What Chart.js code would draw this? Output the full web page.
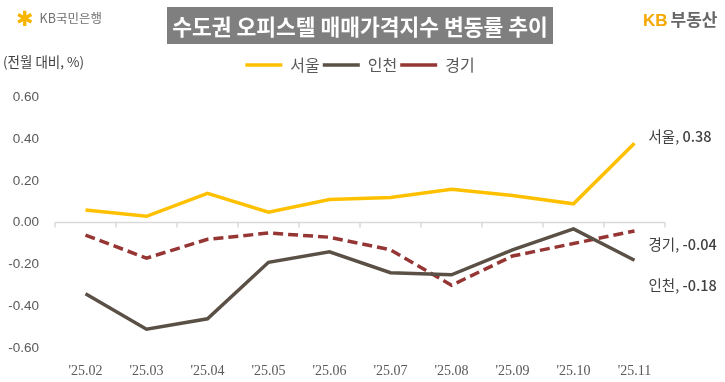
<!DOCTYPE html>
<html><head><meta charset="utf-8">
<script src="https://cdn.jsdelivr.net/npm/chart.js@4.4.1/dist/chart.umd.min.js"></script>
<style>
html,body{margin:0;padding:0;background:#fff;}
#wrap{position:relative;width:725px;height:382px;overflow:hidden;font-family:"Noto Sans CJK KR","Noto Sans",sans-serif;}
#c{position:absolute;left:0;top:0;}
.title{position:absolute;left:167px;top:7px;width:386px;height:37px;background:#7f7f7f;color:#fff;font-weight:bold;font-size:21.5px;line-height:37px;text-align:center;white-space:nowrap;}
.unit{position:absolute;left:3px;top:51px;font-size:13.5px;color:#404040;line-height:20px;white-space:nowrap;}
.kbbank{position:absolute;left:16px;top:8px;font-size:12.5px;color:#6f6f6f;line-height:20px;white-space:nowrap;}
.kbbank .star{color:#f7b500;font-family:"DejaVu Sans";font-size:21px;font-weight:bold;margin-right:6px;vertical-align:-3px;}
.kbland{position:absolute;left:643px;top:8px;font-size:17px;font-weight:bold;color:#666;line-height:22px;white-space:nowrap;}
.kbland .kb{color:#f5a800;font-family:"Liberation Sans";margin-right:3px;}
</style></head>
<body>
<div id="wrap">
<canvas id="c" width="725" height="382"></canvas>
<div class="kbbank"><span class="star">✱</span>KB국민은행</div>
<div class="title">수도권 오피스텔 매매가격지수 변동률 추이</div>
<div class="kbland"><span class="kb">KB</span>부동산</div>
<div class="unit">(전월 대비, %)</div>
</div>
<script>
const categories = ["'25.02","'25.03","'25.04","'25.05","'25.06","'25.07","'25.08","'25.09","'25.10","'25.11"];
const seriesNames = ["서울","인천","경기"];
const seoul    = [0.06, 0.03, 0.14, 0.05, 0.11, 0.12, 0.16, 0.13, 0.09, 0.38];
const incheon  = [-0.34,-0.51,-0.46,-0.19,-0.14,-0.24,-0.25,-0.13,-0.03,-0.18];
const gyeonggi = [-0.06,-0.17,-0.08,-0.05,-0.07,-0.13,-0.30,-0.16,-0.10,-0.04];
const yMin = -0.6, yMax = 0.6, yStep = 0.2;

const zeroAxis = {
  id:'zeroAxis',
  beforeDatasetsDraw(chart){
    const {ctx, scales:{x,y}} = chart;
    const y0 = y.getPixelForValue(0);
    const n = categories.length;
    ctx.save();
    ctx.strokeStyle = '#d9d9d9'; ctx.lineWidth = 1.5;
    ctx.beginPath();
    ctx.moveTo(x.left, y0); ctx.lineTo(x.right, y0);
    for (let i = 0; i <= n; i++) {
      const px = x.left + (x.right - x.left) * i / n;
      ctx.moveTo(px, y0); ctx.lineTo(px, y0 + 5);
    }
    ctx.stroke();
    ctx.restore();
  }
};

const endLabels = {
  id:'endLabels',
  afterDatasetsDraw(chart, args, opts){
    const {ctx} = chart;
    chart.data.datasets.forEach((ds, i) => {
      const meta = chart.getDatasetMeta(i);
      const last = meta.data[meta.data.length - 1];
      const v = ds.data[ds.data.length - 1];
      const x = last.x + opts.dx;
      const y = last.y + opts.dy[i];
      ctx.save();
      ctx.textBaseline = 'middle'; ctx.textAlign = 'left'; ctx.fillStyle = '#404040';
      ctx.font = '14.5px "Noto Sans CJK KR"';
      const head = ds.label + ', ';
      ctx.fillText(head, x, y);
      const w = ctx.measureText(head).width;
      ctx.font = '500 14.5px "Noto Sans CJK KR"';
      ctx.fillText(v.toFixed(2), x + w, y);
      ctx.restore();
    });
  }
};

new Chart(document.getElementById('c'), {
  type: 'line',
  data: {
    labels: categories,
    datasets: [
      {label: seriesNames[0], data: seoul, borderColor:'#ffc000', backgroundColor:'#ffc000', borderWidth:3.5, pointRadius:0, tension:0},
      {label: seriesNames[1], data: incheon, borderColor:'#5a5046', backgroundColor:'#5a5046', borderWidth:3.5, pointRadius:0, tension:0},
      {label: seriesNames[2], data: gyeonggi, borderColor:'#963634', backgroundColor:'#963634', borderWidth:3.5, borderDash:[10,5], pointRadius:0, tension:0}
    ]
  },
  options: {
    responsive:false, animation:false, devicePixelRatio:1,
    layout:{padding:{top:54, right:60, bottom:0, left:0}},
    plugins:{
      legend:{display:true, position:'top', fullSize:false, labels:{usePointStyle:true, pointStyle:'line', pointStyleWidth:37, padding:3, color:'#595959', font:{family:'"Noto Sans CJK KR"', size:16}}},
      title:{display:true, text:'', weight:500, font:{size:1}, padding:{top:13, bottom:0}},
      tooltip:{enabled:false},
      endLabels:{dx:14, dy:[-7, 25, 14]}
    },
    scales:{
      x:{offset:true, grid:{display:false, drawTicks:false}, border:{display:false},
         afterFit(s){ s.height = 34; },
         ticks:{padding:15, color:'#595959', font:{family:'"Liberation Sans Narrow"', size:14}}},
      y:{min:yMin, max:yMax, grid:{display:false, drawTicks:false}, border:{display:false},
         afterFit(s){ s.width = 55; },
         ticks:{stepSize:yStep, padding:16, color:'#595959', font:{family:'"Liberation Sans"', size:13.5}, callback:v => v.toFixed(2)}}
    }
  },
  plugins:[zeroAxis, endLabels]
});
</script>
</body></html>
